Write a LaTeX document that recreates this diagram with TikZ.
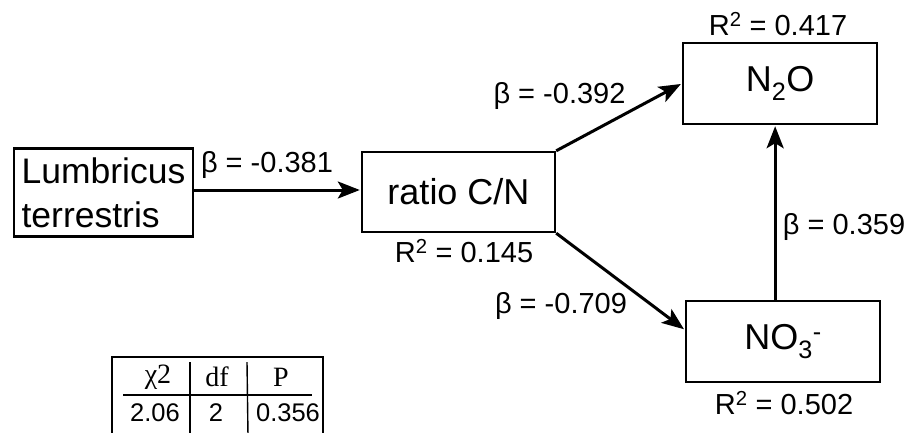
\documentclass[tikz,border=0pt]{standalone}
\usepackage{fontspec}
\setmainfont{Liberation Sans}
\newfontfamily\serifface{Liberation Serif}
\usetikzlibrary{arrows.meta,calc}

\tikzset{
  var/.style={draw, line width=2.4pt, inner sep=0pt, font=\fontsize{36}{43}\selectfont},
  path arrow/.style={line width=3pt, -{Stealth[length=22pt,width=17pt,inset=5pt]}, shorten >=1pt},
  coef/.style={font=\fontsize{29}{34}\selectfont, inner sep=0pt},
  tab/.style={font=\fontsize{25.5}{28}\selectfont, inner sep=0pt},
  tabhead/.style={font=\serifface\fontsize{28}{30}\selectfont, inner sep=0pt},
  rule/.style={line width=1.4pt}
}

\begin{document}
\begin{tikzpicture}[x=1pt,y=-1pt]
\useasboundingbox (0,0) rectangle (917,432);

% variables of the path model
\node[var, minimum width=179pt, minimum height=88pt, align=left,
      font=\fontsize{35.5}{44}\selectfont] (lumb) at (103.5,192.5)
  {Lumbricus\\terrestris};
\node[var, minimum width=193pt, minimum height=80pt] (cn) at (458.5,192) {ratio C/N};
\node[var, minimum width=194pt, minimum height=81pt] (n2o) at (780,83.5) {N\textsubscript{2}O};
\node[var, minimum width=194pt, minimum height=81pt] (no3) at (783,341.5) {NO\textsubscript{3}\textsuperscript{-}};

% explained variance
\node[coef] (r2n2o) at (778,24) {R\textsuperscript{2} = 0.417};
\node[coef] (r2cn) at (464,251) {R\textsuperscript{2} = 0.145};
\node[coef] (r2no3) at (784,403) {R\textsuperscript{2} = 0.502};

% paths
\coordinate (lumbout) at ([yshift=2.5pt]lumb.east);
\draw[path arrow] (lumbout) -- (lumbout -| cn.west);
\draw[path arrow] (cn.north east) -- (n2o.west);
\coordinate (no3in) at ($(no3.north west)!0.36!(no3.south west)$);
\draw[path arrow] (cn.south east) -- (no3in);
\coordinate (no3up) at ($(no3.north west)!0.46!(no3.north east)$);
\draw[path arrow] (no3up) -- (no3up |- n2o.south);

% path coefficients
\node[coef] (b1) at (267,165) {β = -0.381};
\node[coef] (b2) at (559.5,96) {β = -0.392};
\node[coef] (b3) at (561,306) {β = -0.709};
\node[coef] (b4) at (844,227) {β = 0.359};

% fit statistics
\draw[line width=1.8pt] (112,436) -- (112,357) -- (323,357) -- (323,436);
\draw[rule] (123,395) -- (312,395);
\draw[rule] (190,362) -- (190,436);
\draw[rule] (247,362) -- (248,436);
\node[tabhead] (hchi) at (158,377) {χ2};
\node[tabhead] (hdf) at (217,377) {df};
\node[tabhead] (hp) at (281,377) {P};
\node[tab] (vchi) at (155,413) {2.06};
\node[tab] (vdf) at (216,413) {2};
\node[tab] (vp) at (288,413) {0.356};
\end{tikzpicture}
\end{document}
